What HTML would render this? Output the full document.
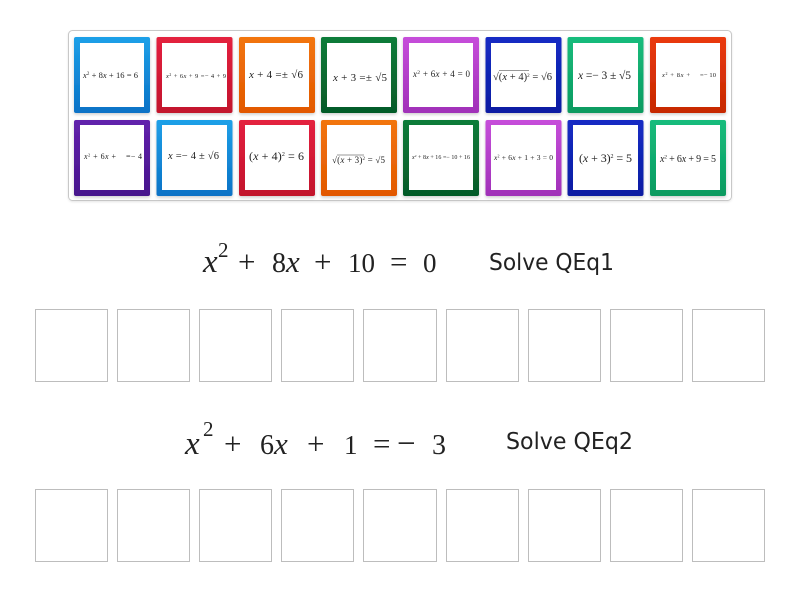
<!DOCTYPE html>
<html><head><meta charset="utf-8"><style>
html,body{margin:0;padding:0;background:#fff;width:800px;height:600px;overflow:hidden}
svg{display:block}
text{font-family:"Liberation Serif",serif;fill:#222}
.s{font-family:"DejaVu Sans","Liberation Sans",sans-serif;fill:#222}
.i{font-style:italic}
</style></head><body>
<svg xmlns="http://www.w3.org/2000/svg" width="800" height="600" viewBox="0 0 800 600">
<defs>
<linearGradient id="b" x1="0" y1="0" x2="0" y2="1"><stop offset="0" stop-color="#1ea0e8"/><stop offset="1" stop-color="#0a72c6"/></linearGradient>
<linearGradient id="r" x1="0" y1="0" x2="0" y2="1"><stop offset="0" stop-color="#e4213f"/><stop offset="1" stop-color="#c2122c"/></linearGradient>
<linearGradient id="o" x1="0" y1="0" x2="0" y2="1"><stop offset="0" stop-color="#f27510"/><stop offset="1" stop-color="#e25800"/></linearGradient>
<linearGradient id="g" x1="0" y1="0" x2="0" y2="1"><stop offset="0" stop-color="#0a7c3a"/><stop offset="1" stop-color="#065a28"/></linearGradient>
<linearGradient id="p" x1="0" y1="0" x2="0" y2="1"><stop offset="0" stop-color="#c64eda"/><stop offset="1" stop-color="#a030b8"/></linearGradient>
<linearGradient id="n" x1="0" y1="0" x2="0" y2="1"><stop offset="0" stop-color="#142cc4"/><stop offset="1" stop-color="#0c1ca2"/></linearGradient>
<linearGradient id="t" x1="0" y1="0" x2="0" y2="1"><stop offset="0" stop-color="#16bc7c"/><stop offset="1" stop-color="#0c9a60"/></linearGradient>
<linearGradient id="e" x1="0" y1="0" x2="0" y2="1"><stop offset="0" stop-color="#ea3a10"/><stop offset="1" stop-color="#c62800"/></linearGradient>
<linearGradient id="v" x1="0" y1="0" x2="0" y2="1"><stop offset="0" stop-color="#6222ac"/><stop offset="1" stop-color="#46148c"/></linearGradient>
<filter id="sh" x="-10%" y="-10%" width="120%" height="125%"><feDropShadow dx="0" dy="1.5" stdDeviation="1.5" flood-color="#000" flood-opacity=".2"/></filter>
<filter id="csh" x="-3%" y="-5%" width="106%" height="115%"><feDropShadow dx="0" dy="1" stdDeviation="1" flood-color="#000" flood-opacity=".1"/></filter>
<filter id="bl" x="-5%" y="-20%" width="110%" height="140%"><feGaussianBlur stdDeviation="0.3"/></filter>
</defs>

<rect x="68.5" y="30.5" width="663" height="170" rx="4" fill="#fff" stroke="#c8c8c8" filter="url(#csh)"/>

<g filter="url(#sh)">
<rect x="74" y="37" width="76" height="76" rx="2" fill="url(#b)"/>
<rect x="156.5" y="37" width="76" height="76" rx="2" fill="url(#r)"/>
<rect x="239" y="37" width="76" height="76" rx="2" fill="url(#o)"/>
<rect x="321" y="37" width="76" height="76" rx="2" fill="url(#g)"/>
<rect x="403" y="37" width="76" height="76" rx="2" fill="url(#p)"/>
<rect x="485.5" y="37" width="76" height="76" rx="2" fill="url(#n)"/>
<rect x="567.5" y="37" width="76" height="76" rx="2" fill="url(#t)"/>
<rect x="650" y="37" width="76" height="76" rx="2" fill="url(#e)"/>
<rect x="74" y="120" width="76" height="76" rx="2" fill="url(#v)"/>
<rect x="156.5" y="120" width="76" height="76" rx="2" fill="url(#b)"/>
<rect x="239" y="120" width="76" height="76" rx="2" fill="url(#r)"/>
<rect x="321" y="120" width="76" height="76" rx="2" fill="url(#o)"/>
<rect x="403" y="120" width="76" height="76" rx="2" fill="url(#g)"/>
<rect x="485.5" y="120" width="76" height="76" rx="2" fill="url(#p)"/>
<rect x="567.5" y="120" width="76" height="76" rx="2" fill="url(#n)"/>
<rect x="650" y="120" width="76" height="76" rx="2" fill="url(#t)"/>
</g>
<g fill="#fff">
<rect x="80" y="43" width="64" height="64"/><rect x="162" y="43" width="65" height="64"/><rect x="245" y="43" width="64" height="64"/><rect x="327" y="43" width="64" height="64"/><rect x="409" y="43" width="64" height="64"/><rect x="491" y="43" width="65" height="64"/><rect x="573" y="43" width="65" height="64"/><rect x="656" y="43" width="64" height="64"/>
<rect x="80" y="125" width="64" height="65"/><rect x="162" y="125" width="65" height="65"/><rect x="245" y="125" width="64" height="65"/><rect x="327" y="125" width="64" height="65"/><rect x="409" y="125" width="64" height="65"/><rect x="491" y="125" width="65" height="65"/><rect x="573" y="125" width="65" height="65"/><rect x="656" y="125" width="64" height="65"/>
</g>

<g filter="url(#bl)">
<text x="83" y="78" font-size="8.5" textLength="55"><tspan class="i">x</tspan><tspan dy="-3" font-size="5">2</tspan><tspan dy="3"> + 8</tspan><tspan class="i">x</tspan> + 16 = 6</text>
<text x="166" y="78" font-size="6.5" textLength="60"><tspan class="i">x</tspan><tspan dy="-2" font-size="4">2</tspan><tspan dy="2"> + 6</tspan><tspan class="i">x</tspan> + 9 =− 4 + 9</text>
<text x="249" y="78" font-size="11" textLength="54"><tspan class="i">x</tspan> + 4 =± √6</text>
<text x="333" y="81" font-size="11" textLength="54"><tspan class="i">x</tspan> + 3 =± √5</text>
<text x="413" y="77" font-size="9" textLength="57"><tspan class="i">x</tspan><tspan dy="-3" font-size="5.5">2</tspan><tspan dy="3"> + 6</tspan><tspan class="i">x</tspan> + 4 = 0</text>
<text x="493" y="80" font-size="10.5" textLength="59">√(<tspan class="i">x</tspan> + 4)<tspan dy="-3" font-size="5">2</tspan><tspan dy="3"> = √6</tspan></text>
<path d="M499 70.5h30" stroke="#333" stroke-width=".5"/>
<text x="578" y="79" font-size="11.5" textLength="53"><tspan class="i">x</tspan> =− 3 ± √5</text>
<text x="662" y="77" font-size="6.5" textLength="28"><tspan class="i">x</tspan><tspan dy="-2" font-size="4">2</tspan><tspan dy="2"> + 8</tspan><tspan class="i">x</tspan> +</text>
<text x="700" y="77" font-size="6.5" textLength="16">=− 10</text>

<text x="84" y="159" font-size="8" textLength="32"><tspan class="i">x</tspan><tspan dy="-2.5" font-size="4.5">2</tspan><tspan dy="2.5"> + 6</tspan><tspan class="i">x</tspan> +</text>
<text x="126" y="159" font-size="8" textLength="16">=− 4</text>
<text x="168" y="159" font-size="10.5" textLength="51"><tspan class="i">x</tspan> =− 4 ± √6</text>
<text x="249" y="160" font-size="12" textLength="55">(<tspan class="i">x</tspan> + 4)<tspan dy="-4" font-size="6">2</tspan><tspan dy="4"> = 6</tspan></text>
<text x="332" y="163" font-size="9" textLength="53">√(<tspan class="i">x</tspan> + 3)<tspan dy="-3" font-size="5">2</tspan><tspan dy="3"> = √5</tspan></text>
<path d="M337 155h27" stroke="#333" stroke-width=".5"/>
<text x="412" y="159" font-size="6" textLength="58"><tspan class="i">x</tspan><tspan dy="-2" font-size="3.5">2</tspan><tspan dy="2"> + 8</tspan><tspan class="i">x</tspan> + 16 =− 10 + 16</text>
<text x="494" y="160" font-size="7.5" textLength="59"><tspan class="i">x</tspan><tspan dy="-2.5" font-size="4">2</tspan><tspan dy="2.5"> + 6</tspan><tspan class="i">x</tspan> + 1 + 3 = 0</text>
<text x="579" y="162" font-size="12" textLength="53">(<tspan class="i">x</tspan> + 3)<tspan dy="-4" font-size="6">2</tspan><tspan dy="4"> = 5</tspan></text>
<text x="660" y="162" font-size="10" textLength="56"><tspan class="i">x</tspan><tspan dy="-3.5" font-size="5.5">2</tspan><tspan dy="3.5"> + 6</tspan><tspan class="i">x</tspan> + 9 = 5</text>
</g>

<g font-size="27">
<text x="203" y="272" font-size="33" class="i">x</text><text x="218" y="257" font-size="21">2</text>
<text x="238" y="272" font-size="31">+</text><text x="272" y="272" font-size="28">8<tspan class="i" font-size="31">x</tspan></text>
<text x="314" y="272" font-size="31">+</text><text x="348" y="272">10</text><text x="390" y="272" font-size="31">=</text><text x="423" y="272">0</text>

<text x="185" y="454" font-size="33" class="i">x</text><text x="203" y="436" font-size="21">2</text>
<text x="224" y="454" font-size="31">+</text><text x="260" y="454" font-size="28">6<tspan class="i" font-size="31">x</tspan></text>
<text x="307" y="454" font-size="31">+</text><text x="344" y="454">1</text><text x="373" y="454" font-size="31">=</text><text x="397" y="454" font-size="33">−</text><text x="432" y="454" font-size="28">3</text>
</g>
<text class="s" x="489" y="270" font-size="23" textLength="125" lengthAdjust="spacingAndGlyphs">Solve QEq1</text>
<text class="s" x="506" y="449" font-size="23" textLength="127" lengthAdjust="spacingAndGlyphs">Solve QEq2</text>

<g fill="#fff" stroke="#bdbdbd">
<rect x="35.5" y="309.5" width="72" height="72"/><rect x="117.5" y="309.5" width="72" height="72"/><rect x="199.5" y="309.5" width="72" height="72"/><rect x="281.5" y="309.5" width="72" height="72"/><rect x="363.5" y="309.5" width="73" height="72"/><rect x="446.5" y="309.5" width="72" height="72"/><rect x="528.5" y="309.5" width="72" height="72"/><rect x="610.5" y="309.5" width="72" height="72"/><rect x="692.5" y="309.5" width="72" height="72"/>
<rect x="35.5" y="489.5" width="72" height="72"/><rect x="117.5" y="489.5" width="72" height="72"/><rect x="199.5" y="489.5" width="72" height="72"/><rect x="281.5" y="489.5" width="72" height="72"/><rect x="363.5" y="489.5" width="73" height="72"/><rect x="446.5" y="489.5" width="72" height="72"/><rect x="528.5" y="489.5" width="72" height="72"/><rect x="610.5" y="489.5" width="72" height="72"/><rect x="692.5" y="489.5" width="72" height="72"/>
</g>
</svg>
</body></html>
